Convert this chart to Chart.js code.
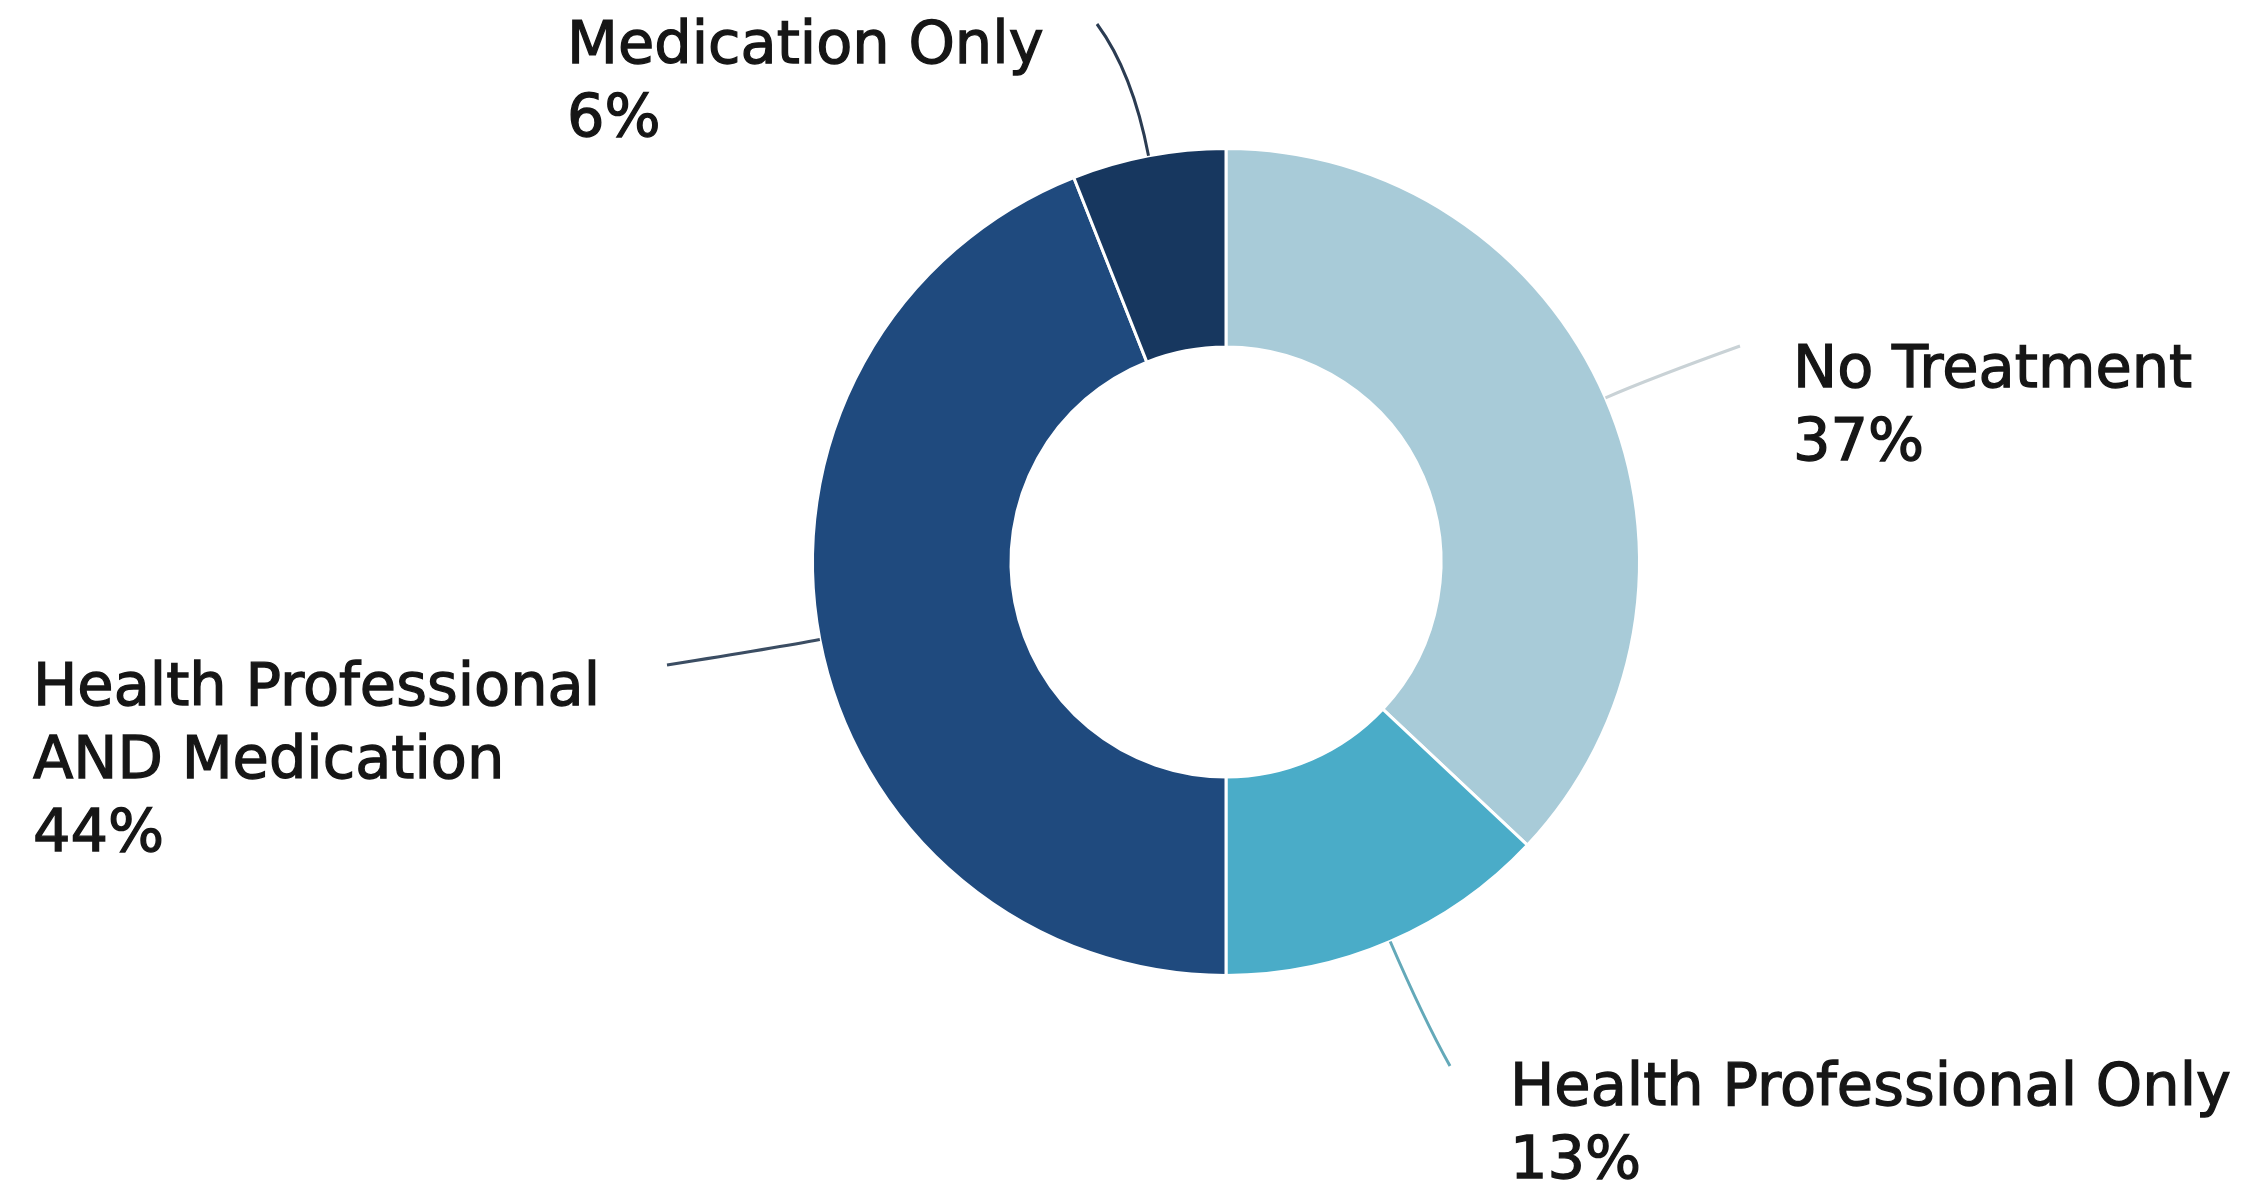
<!DOCTYPE html>
<html>
<head>
<meta charset="utf-8">
<title>Treatment</title>
<script src="https://cdn.jsdelivr.net/npm/chart.js@4.4.1/dist/chart.umd.min.js"></script>
<style>
  html, body { margin: 0; padding: 0; background: #ffffff; }
  canvas { display: block; }
</style>
</head>
<body>
<canvas id="myChart" width="2263" height="1187"></canvas>
<script>
// Data
const categories = ['No Treatment', 'Health Professional Only', ['Health Professional', 'AND Medication'], 'Medication Only'];
const shares = [37, 13, 44, 6];
const sliceColors = ['#a8cbd8', '#4aacc8', '#1f4a7e', '#17375f'];
const leaderColors = ['#c9d2d6', '#64a9b9', '#3b4d63', '#2b3c52'];

// where each label goes (left x, first baseline) and where its leader line ends
const labelSpots = [
  { x: 1793, y: 387, ex: 1740, ey: 346, bend: 50 },
  { x: 1510, y: 1105, ex: 1450, ey: 1066, bend: 85 },
  { x: 33, y: 705, ex: 667, ey: 665, bend: 40 },
  { x: 567, y: 63, ex: 1097, ey: 24, bend: 85 }
];

// draws leader lines and outside labels
const outsideLabels = {
  id: 'outsideLabels',
  afterDatasetsDraw(chart) {
    const ctx = chart.ctx;
    const meta = chart.getDatasetMeta(0);
    meta.data.forEach(function(arc, i) {
      const mid = (arc.startAngle + arc.endAngle) / 2;
      const dx = Math.cos(mid), dy = Math.sin(mid);
      const sx = arc.x + dx * arc.outerRadius;
      const sy = arc.y + dy * arc.outerRadius;
      const spot = labelSpots[i];
      ctx.save();
      ctx.strokeStyle = leaderColors[i];
      ctx.lineWidth = 3;
      ctx.beginPath();
      ctx.moveTo(sx, sy);
      ctx.quadraticCurveTo(sx + dx * spot.bend, sy + dy * spot.bend, spot.ex, spot.ey);
      ctx.stroke();

      let lines = categories[i];
      if (!Array.isArray(lines)) lines = [lines];
      lines = lines.concat([shares[i] + '%']);
      ctx.fillStyle = '#161616';
      ctx.strokeStyle = '#161616';
      ctx.lineWidth = 1.3;
      ctx.font = '59px "DejaVu Sans"';
      ctx.textAlign = 'left';
      ctx.textBaseline = 'alphabetic';
      lines.forEach(function(t, j) {
        ctx.fillText(t, spot.x, spot.y + j * 73);
        ctx.strokeText(t, spot.x, spot.y + j * 73);
      });
      ctx.restore();
    });
  }
};

// config
const config = {
  type: 'doughnut',
  data: {
    labels: categories,
    datasets: [{
      data: shares,
      backgroundColor: sliceColors,
      borderColor: '#ffffff',
      borderWidth: 3,
      hoverOffset: 0
    }]
  },
  options: {
    responsive: false,
    animation: false,
    cutout: '52%',
    layout: {
      padding: { top: 147, bottom: 210, left: 300, right: 111 }
    },
    plugins: {
      legend: { display: false },
      tooltip: { enabled: false }
    }
  },
  plugins: [outsideLabels]
};

// render init block
const myChart = new Chart(document.getElementById('myChart'), config);
</script>
</body>
</html>
